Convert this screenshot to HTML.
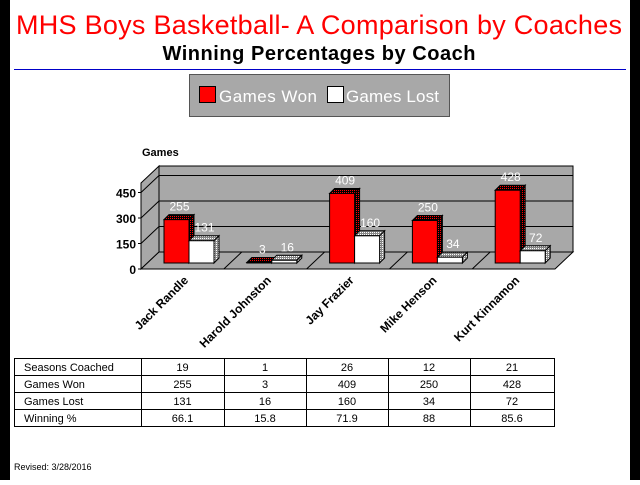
<!DOCTYPE html>
<html><head><meta charset="utf-8"><style>
body{margin:0;width:640px;height:480px;background:#fff;overflow:hidden;font-family:"Liberation Sans",sans-serif}
</style></head><body>
<svg width="640" height="480" viewBox="0 0 640 480">
<defs>
<pattern id="redDot" width="2" height="2" patternUnits="userSpaceOnUse"><rect width="2" height="2" fill="#000"/><rect width="1" height="1" fill="#f00"/></pattern>
<pattern id="grayDot" width="2" height="2" patternUnits="userSpaceOnUse"><rect width="2" height="2" fill="#888"/><rect width="1" height="1" fill="#fff"/></pattern>
</defs>
<rect x="0" y="0" width="10" height="480" fill="#000"/>
<rect x="630" y="0" width="10" height="480" fill="#000"/>
<text x="319" y="34" font-size="27" fill="#f00" text-anchor="middle" textLength="606">MHS Boys Basketball- A Comparison by Coaches</text>
<text x="319" y="60" font-size="20" font-weight="bold" fill="#000" text-anchor="middle" textLength="313">Winning Percentages by Coach</text>
<line x1="14" y1="69.5" x2="626" y2="69.5" stroke="#0000c8" stroke-width="1"/>
<g>
<rect x="189.5" y="74.5" width="260" height="42" fill="#a8a8a8" stroke="#555"/>
<rect x="199.5" y="86.5" width="16" height="16" fill="#f00" stroke="#000"/>
<text x="219" y="102" font-size="17" fill="#fff" textLength="98">Games Won</text>
<rect x="327.5" y="86.5" width="16" height="16" fill="#fff" stroke="#000"/>
<text x="346" y="102" font-size="17" fill="#fff" textLength="93">Games Lost</text>
</g>
<text x="142" y="156" font-size="11" font-weight="bold">Games</text>
<g id="plot"></g>
<g id="table"></g>
<text x="14" y="470" font-size="9">Revised: 3/28/2016</text>
</svg>
<script>
const coaches=["Jack Randle","Harold Johnston","Jay Frazier","Mike Henson","Kurt Kinnamon"];
const won=[255,3,409,250,428];
const lost=[131,16,160,34,72];
const seasons=[19,1,26,12,21];
const winPct=["66.1","15.8","71.9","88","85.6"];
const yTicks=[0,150,300,450];
const NS="http://www.w3.org/2000/svg";
const plot=document.getElementById('plot');
function mk(tag,attrs,parent,txt){const e=document.createElementNS(NS,tag);for(const k in attrs)e.setAttribute(k,attrs[k]);if(txt!==undefined)e.textContent=txt;(parent||plot).appendChild(e);return e;}
const FX=141,FY=269,DX=18,DY=-17,PW=414,TOPV=506;
const k=25.5/150;
function yFront(v){return FY-v*k;}
function yBack(v){return FY+DY-v*k;}
let e;
e=mk('polygon',{points:`${FX+DX},${yBack(TOPV)} ${FX+DX+PW},${yBack(TOPV)} ${FX+DX+PW},${FY+DY} ${FX+DX},${FY+DY}`,fill:'#a8a8a8',stroke:'#000'});


e=mk('polygon',{points:`${FX},${yFront(TOPV)} ${FX+DX},${yBack(TOPV)} ${FX+DX},${FY+DY} ${FX},${FY}`,fill:'#a8a8a8',stroke:'#000'});


e=mk('polygon',{points:`${FX},${FY} ${FX+DX},${FY+DY} ${FX+DX+PW},${FY+DY} ${FX+PW},${FY}`,fill:'#a8a8a8',stroke:'#000'});


yTicks.forEach(v=>{
  if(v>0){const g=mk('polyline',{points:`${FX},${yFront(v)} ${FX+DX},${yBack(v)} ${FX+DX+PW},${yBack(v)}`,fill:'none',stroke:'#000'});
  
  }
  const t=mk('text',{x:FX-5,y:yFront(v)+5,'font-size':12,'font-weight':'bold','text-anchor':'end'},plot,String(v));
  
  
  const tk=mk('line',{x1:FX-3,y1:yFront(v),x2:FX,y2:yFront(v),stroke:'#000'});
  
  
});
const slot=PW/coaches.length;
for(let i=1;i<coaches.length;i++){
  const x=FX+slot*i;
  const d=mk('line',{x1:x,y1:FY,x2:x+DX,y2:FY+DY,stroke:'#000'});
  
  
}
const BW=25,BDX=5,BDY=-5,BASE=263;
function bar(x,v,fill,side,name){
  const top=BASE-v*k;
  const g=mk('g',{});
  
  
  mk('polygon',{points:`${x},${top} ${x+BDX},${top+BDY} ${x+BW+BDX},${top+BDY} ${x+BW},${top}`,fill:side,stroke:'#000'},g);
  mk('polygon',{points:`${x+BW},${top} ${x+BW+BDX},${top+BDY} ${x+BW+BDX},${BASE+BDY} ${x+BW},${BASE}`,fill:side,stroke:'#000'},g);
  mk('rect',{x:x,y:top,width:BW,height:BASE-top,fill:fill,stroke:'#000'},g);
  const t=mk('text',{x:x+BW/2+3,y:top-9,'font-size':12,fill:'#fff','text-anchor':'middle'},plot,String(v));
  
  
}
coaches.forEach((c,i)=>{
  const x0=FX+slot*i+23;
  bar(x0,won[i],'#f00','url(#redDot)','bar-won-'+i);
  bar(x0+BW,lost[i],'#fff','url(#grayDot)','bar-lost-'+i);
  const lx=x0+BW,ly=281;
  const t=mk('text',{x:lx,y:ly,'font-size':12,'font-weight':'bold','text-anchor':'end',transform:`rotate(-45 ${lx} ${ly})`},plot,c);
  
  
});
const tg=document.getElementById('table');
const cols=[14,141,224,306,388,470,554];
const rowTop=358,RH=17;
const rows=[["Seasons Coached",seasons],["Games Won",won],["Games Lost",lost],["Winning %",winPct]];
const tr=mk('rect',{x:14.5,y:rowTop+.5,width:cols[6]-14,height:RH*4,fill:'#fff',stroke:'#000'},tg);


for(let r=1;r<4;r++)mk('line',{x1:14,y1:rowTop+RH*r+.5,x2:cols[6],y2:rowTop+RH*r+.5,stroke:'#000'},tg);
for(let c=1;c<6;c++)mk('line',{x1:cols[c]+.5,y1:rowTop,x2:cols[c]+.5,y2:rowTop+RH*4,stroke:'#000'},tg);
rows.forEach((row,r)=>{
  const y=rowTop+RH*r+13;
  const h=mk('text',{x:24,y:y,'font-size':11},tg,row[0]);
  
  
  row[1].forEach((v,c)=>{
    const t=mk('text',{x:(cols[c+1]+cols[c+2])/2,y:y,'font-size':11,'text-anchor':'middle'},tg,String(v));
    
    
  });
});
</script>
</body></html>
